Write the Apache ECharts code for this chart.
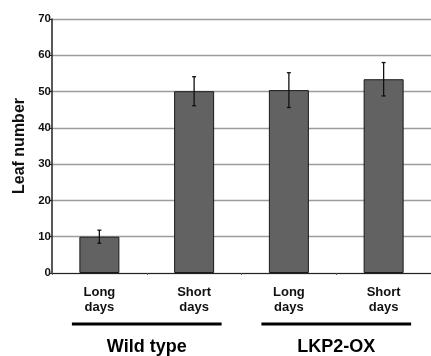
<!DOCTYPE html>
<html>
<head>
<meta charset="utf-8">
<script src="https://cdn.jsdelivr.net/npm/echarts@6/dist/echarts.min.js"></script>
<style>html,body{margin:0;padding:0;background:#fff}#c{width:431px;height:356px}</style>
</head>
<body>
<div id="c"></div>
<script>
var categories = ['Long\ndays', 'Short\ndays', 'Long\ndays', 'Short\ndays'];
var values = [10.0, 50.1, 50.4, 53.4];
var errors = [1.8, 4.0, 4.8, 4.6];
var groups = ['Wild type', 'LKP2-OX'];
var groupSpans = [[0, 1], [2, 3]];
var yTicks = [0, 10, 20, 30, 40, 50, 60, 70];

var FONT = '"Liberation Sans", Arial, sans-serif';
var chart = echarts.init(document.getElementById('c'));

var option = {
  animation: false,
  grid: { left: 52, top: 19, bottom: 83, right: -11, containLabel: false },
  xAxis: {
    type: 'category',
    data: categories,
    axisLine: { lineStyle: { color: '#222', width: 1.2 } },
    axisTick: { show: true, length: 2, lineStyle: { color: '#555' } },
    axisLabel: {
      color: '#111', fontFamily: FONT, fontWeight: 'bold', fontSize: 13,
      lineHeight: 15, margin: 12, interval: 0
    }
  },
  yAxis: {
    type: 'value',
    min: yTicks[0], max: yTicks[yTicks.length - 1], interval: 10,
    name: 'Leaf number', nameLocation: 'middle', nameGap: 22,
    nameTextStyle: { color: '#111', fontFamily: FONT, fontWeight: 'bold', fontSize: 16 },
    axisLine: { show: true, lineStyle: { color: '#222', width: 1.5 } },
    axisTick: { show: true, length: 3, lineStyle: { color: '#222' } },
    axisLabel: { color: '#111', fontFamily: FONT, fontWeight: 'bold', fontSize: 11.5, margin: 1 },
    splitLine: { show: true, lineStyle: { color: '#9c9c9c', width: 1.3 } }
  },
  series: [
    {
      type: 'bar',
      data: values,
      barWidth: 40,
      itemStyle: { color: '#626262', borderColor: '#1a1a1a', borderWidth: 1 },
      z: 2
    },
    {
      type: 'custom',
      data: values.map(function (v, i) { return [i, v - errors[i], v + errors[i]]; }),
      z: 5,
      renderItem: function (params, api) {
        var x = api.value(0);
        var lo = api.coord([x, api.value(1)]);
        var hi = api.coord([x, api.value(2)]);
        var cap = 2;
        var st = { stroke: '#111', lineWidth: 1.3 };
        return {
          type: 'group',
          children: [
            { type: 'line', shape: { x1: lo[0], y1: lo[1], x2: hi[0], y2: hi[1] }, style: st },
            { type: 'line', shape: { x1: hi[0] - cap, y1: hi[1], x2: hi[0] + cap, y2: hi[1] }, style: st },
            { type: 'line', shape: { x1: lo[0] - cap, y1: lo[1], x2: lo[0] + cap, y2: lo[1] }, style: st }
          ]
        };
      }
    }
  ]
};
chart.setOption(option);

// group underlines and labels, positioned from the category axis
var band = chart.convertToPixel({ xAxisIndex: 0 }, 1) - chart.convertToPixel({ xAxisIndex: 0 }, 0);
var g = [];
groupSpans.forEach(function (span, k) {
  var a = chart.convertToPixel({ xAxisIndex: 0 }, span[0]);
  var b = chart.convertToPixel({ xAxisIndex: 0 }, span[1]);
  var x1 = a - band * 0.29, x2 = b + band * 0.29;
  g.push({ type: 'line', shape: { x1: x1, y1: 324, x2: x2, y2: 324 }, style: { stroke: '#000', lineWidth: 3 } });
  g.push({ type: 'text', x: (x1 + x2) / 2, y: 347, style: {
    text: groups[k], fill: '#000', font: 'bold 18px ' + FONT, align: 'center', verticalAlign: 'middle' } });
});
chart.setOption({ graphic: g });
</script>
</body>
</html>
